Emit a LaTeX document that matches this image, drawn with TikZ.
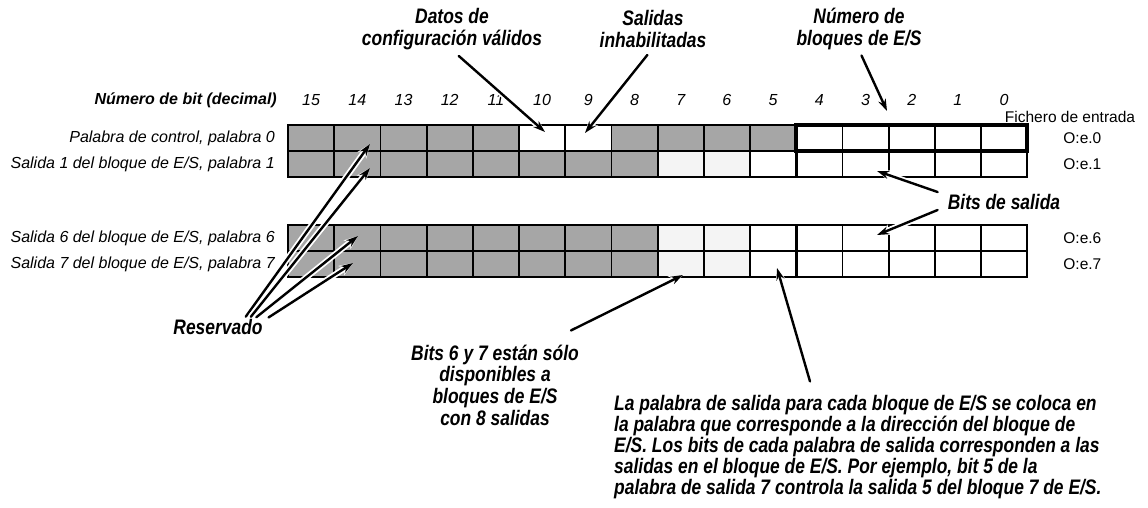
\documentclass[tikz,border=0pt]{standalone}
\usepackage{fontspec}
\setmainfont{Liberation Sans}
\newfontfamily\notafont[FakeStretch=0.83]{Liberation Sans}
\usetikzlibrary{arrows.meta,positioning}
\definecolor{gris}{RGB}{166,166,166}
\definecolor{grisclaro}{RGB}{244,244,244}
\tikzset{
  celda/.style={draw=black, line width=1.8pt, minimum width=46.2pt, minimum height=26pt, inner sep=0pt, outer sep=0pt, anchor=north west},
  etiq/.style={font=\fontsize{16}{19}\selectfont\itshape, inner sep=0pt},
  fich/.style={font=\fontsize{15.5}{18}\selectfont, inner sep=0pt},
  nota/.style={font=\notafont\fontsize{21}{22}\selectfont\bfseries\itshape, align=center, inner sep=0pt},
  flecha/.style={-{Stealth[length=12pt,width=8pt]}, line width=2.4pt, line cap=round,
    preaction={draw=white, line width=6pt, -{Stealth[length=14pt,width=11pt]}}},
}
\begin{document}
\begin{tikzpicture}[x=1pt, y=-1pt]
\useasboundingbox (0,0) rectangle (1148,508);
%%%%%%%%%%%%%%%%%%%%%%%%%%%%%%%%%
% celdas de las palabras
\foreach \b/\ca/\cb in {15/gris/gris, 14/gris/gris, 13/gris/gris, 12/gris/gris, 11/gris/gris,
    10/white/gris, 9/white/gris, 8/gris/gris, 7/gris/grisclaro, 6/gris/grisclaro, 5/gris/white,
    4/white/white, 3/white/white, 2/white/white, 1/white/white, 0/white/white}{
  \pgfmathsetmacro\x{288+46.2*(15-\b)}
  \node[celda, fill=\ca] (r0c\b) at (\x,125) {};
  \node[celda, fill=\cb] (r1c\b) at (\x,151) {};
  \node[celda, fill=\cb] (r6c\b) at (\x,225) {};
  \node[celda, fill=\cb] (r7c\b) at (\x,251) {};
  \node[etiq] (n\b) at ([yshift=25pt]r0c\b.north) {\b};
}
\draw[line width=3.5pt] (r0c4.north west) rectangle (r0c0.south east);
\draw[line width=3pt] (r0c4.north west) -- (r1c4.south west);
\draw[line width=3pt] (r6c4.north west) -- (r7c4.south west);
%%%%%%%%%%%%%%%%%%%%%%%%%%%%%%%%%
% textos de las filas
\node[etiq, anchor=east] (tbit) at (277,100) {\bfseries N\'umero de bit (decimal)};
\node[etiq, left=13pt of r0c15] (pal0) {Palabra de control, palabra 0};
\node[etiq, left=13pt of r1c15] (pal1) {Salida 1 del bloque de E/S, palabra 1};
\node[etiq, left=13pt of r6c15] (pal6) {Salida 6 del bloque de E/S, palabra 6};
\node[etiq, left=13pt of r7c15] (pal7) {Salida 7 del bloque de E/S, palabra 7};
\node[fich] (fichero) at (1070,117) {Fichero de entrada};
\node[fich, right=36pt of r0c0] (oe0) {O:e.0};
\node[fich, right=36pt of r1c0] (oe1) {O:e.1};
\node[fich, right=36pt of r6c0] (oe6) {O:e.6};
\node[fich, right=36pt of r7c0] (oe7) {O:e.7};
%%%%%%%%%%%%%%%%%%%%%%%%%%%%%%%%%
% notas
\node[nota] (datos) at (452,29) {Datos de\\configuraci\'on v\'alidos};
\node[nota] (inhab) at (653,29) {Salidas\\inhabilitadas};
\node[nota] (bloques) at (859,29) {N\'umero de\\bloques de E/S};
\node[nota] (bits) at (1004,202) {Bits de salida};
\node[nota] (reserv) at (218,327) {Reservado};
\node[nota, font=\notafont\fontsize{21}{21.7}\selectfont\bfseries\itshape] (b67) at (495,385) {Bits 6 y 7 est\'an s\'olo\\disponibles a\\bloques de E/S\\con 8 salidas};
\node[nota, align=left, anchor=west, font=\notafont\fontsize{21}{20.8}\selectfont\bfseries\itshape] (parr) at (614,447)
  {La palabra de salida para cada bloque de E/S se coloca en\\
   la palabra que corresponde a la direcci\'on del bloque de\\
   E/S. Los bits de cada palabra de salida corresponden a las\\
   salidas en el bloque de E/S. Por ejemplo, bit 5 de la\\
   palabra de salida 7 controla la salida 5 del bloque 7 de E/S.};
%%%%%%%%%%%%%%%%%%%%%%%%%%%%%%%%%
% puntas de las flechas
\coordinate (tDatos) at (545,132);
\coordinate (tInhab) at (585,133);
\coordinate (tBloq) at (887,111);
\coordinate (tBits1) at (877,171);
\coordinate (tBits6) at (877,235);
\coordinate (tRes0) at (370,144);
\coordinate (tRes1) at (370,168);
\coordinate (tRes6) at (358,236);
\coordinate (tRes7) at (353,263);
\coordinate (tB67) at (683,275);
\coordinate (tParr) at (777,268);
%%%%%%%%%%%%%%%%%%%%%%%%%%%%%%%%%
\draw[flecha, shorten <=9pt] (datos.south) -- (tDatos);
\draw[flecha, shorten <=9pt] (inhab.south) -- (tInhab);
\draw[flecha, shorten <=6pt] (bloques.south) -- (tBloq);
\draw[flecha] ([shift={(-10pt,10pt)}]bits.west) -- (tBits1);
\draw[flecha] ([shift={(-10pt,-8pt)}]bits.west) -- (tBits6);
\foreach \t/\dx in {tRes0/26, tRes1/31, tRes6/36, tRes7/48}
  \draw[flecha, shorten <=3pt] ([xshift=\dx pt]reserv.north) -- (\t);
\draw[flecha] ([shift={(-8pt,14pt)}]b67.north east) -- (tB67);
\draw[flecha] ([shift={(196pt,14pt)}]parr.north west) -- (tParr);
\end{tikzpicture}
\end{document}
